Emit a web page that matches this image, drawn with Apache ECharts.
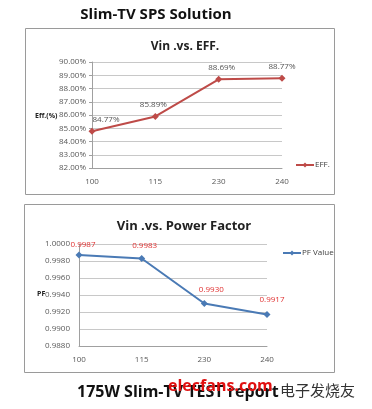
<!DOCTYPE html>
<html><head><meta charset="utf-8">
<script src="https://cdn.jsdelivr.net/npm/echarts@6/dist/echarts.min.js"></script>
<style>html,body{margin:0;padding:0;background:#fff;}#c{width:372px;height:409px;}</style>
</head><body><div id="c"></div>
<script>
const categories = ['100', '115', '230', '240'];
const effValues = [84.77, 85.89, 88.69, 88.77];
const pfValues = [0.9987, 0.9983, 0.9930, 0.9917];
const effTicks = { min: 82, max: 90, interval: 1 };
const pfTicks = { min: 0.988, max: 1.0, interval: 0.002 };

const chart = echarts.init(document.getElementById('c'), null, { renderer: 'canvas' });
const FONT = '"Open Sans", "Liberation Sans", sans-serif';
const tickLabel = { color: '#595959', fontSize: 8, fontFamily: FONT };
const splitLine = { show: true, lineStyle: { color: '#c8c8c8', width: 1 } };
const axisLine = { show: true, lineStyle: { color: '#a0a0a0', width: 1 } };
const effLabelShift = [{ dx: 14, dy: 0 }, { dx: -2, dy: 0 }, { dx: 3, dy: 0 }, { dx: 0, dy: 0 }];
const pfLabelShift = [{ dx: 4, dy: 1 }, { dx: 3, dy: -1 }, { dx: 7, dy: -2 }, { dx: 5, dy: -3 }];

chart.setOption({
  animation: false,
  backgroundColor: '#fff',
  title: [
    { text: 'Slim-TV SPS Solution', left: 151, top: 2, textAlign: 'center',
      textStyle: { fontSize: 15, fontWeight: 'bold', color: '#111', fontFamily: FONT } },
    { text: 'Vin .vs. EFF.', left: 180, top: 36, textAlign: 'center',
      textStyle: { fontSize: 12, fontWeight: 'bold', color: '#222', fontFamily: FONT } },
    { text: 'Vin .vs. Power Factor', left: 179, top: 215, textAlign: 'center',
      textStyle: { fontSize: 13, fontWeight: 'bold', color: '#222', fontFamily: FONT } }
  ],
  legend: [
    { data: ['EFF.'], left: 290, top: 156, itemWidth: 18, itemHeight: 6, itemGap: 2,
      textStyle: { fontSize: 8, color: '#404040', fontFamily: FONT, padding: [0, 0, 0, -4] } },
    { data: ['PF Value'], left: 277, top: 244, itemWidth: 18, itemHeight: 6,
      textStyle: { fontSize: 8, color: '#404040', fontFamily: FONT, padding: [0, 0, 0, -4] } }
  ],
  graphic: [
    { type: 'rect', shape: { x: 25.5, y: 28.5, width: 309, height: 166 },
      style: { fill: 'none', stroke: '#9a9a9a', lineWidth: 1 } },
    { type: 'rect', shape: { x: 24.5, y: 204.5, width: 310, height: 168 },
      style: { fill: 'none', stroke: '#9a9a9a', lineWidth: 1 } },
    { type: 'text', left: 35, top: 112,
      style: { text: 'Eff.(%)', fontSize: 7, fontWeight: 'bold', fill: '#222', fontFamily: FONT } },
    { type: 'text', left: 37, top: 290,
      style: { text: 'PF', fontSize: 7, fontWeight: 'bold', fill: '#222', fontFamily: FONT } },
    { type: 'text', left: 77, top: 384,
      style: { text: '175W Slim-TV TEST report', fontSize: 16, fontWeight: 'bold', fill: '#111', fontFamily: FONT } },
    { type: 'text', left: 168, top: 378,
      style: { text: 'elecfans.com', fontSize: 16, fontWeight: 'bold', fill: '#e01010', fontFamily: FONT } },
    { type: 'text', left: 280, top: 383,
      style: { text: '电子发烧友', fontSize: 15, fill: '#333', fontFamily: '"Noto Sans CJK SC", sans-serif' } }
  ],
  grid: [
    { left: 92, top: 62, width: 190, height: 106 },
    { left: 79, top: 244, width: 188, height: 102 }
  ],
  xAxis: [
    { type: 'category', gridIndex: 0, data: categories, boundaryGap: false,
      axisLine: axisLine, axisTick: { show: false }, axisLabel: Object.assign({ margin: 10 }, tickLabel),
      splitLine: { show: false } },
    { type: 'category', gridIndex: 1, data: categories, boundaryGap: false,
      axisLine: axisLine, axisTick: { show: false }, axisLabel: Object.assign({ margin: 10 }, tickLabel),
      splitLine: { show: false } }
  ],
  yAxis: [
    { type: 'value', gridIndex: 0, min: effTicks.min, max: effTicks.max, interval: effTicks.interval,
      axisLine: axisLine, axisTick: { show: true, length: 3, lineStyle: { color: '#a0a0a0' } },
      axisLabel: Object.assign({ margin: 6, formatter: v => v.toFixed(2) + '%' }, tickLabel),
      splitLine: splitLine },
    { type: 'value', gridIndex: 1, min: pfTicks.min, max: pfTicks.max, interval: pfTicks.interval,
      axisLine: axisLine, axisTick: { show: false },
      axisLabel: Object.assign({ margin: 9, formatter: v => v.toFixed(4) }, tickLabel),
      splitLine: splitLine }
  ],
  series: [
    { name: 'EFF.', type: 'line', xAxisIndex: 0, yAxisIndex: 0, data: effValues,
      symbol: 'diamond', symbolSize: 7, color: '#be4b48',
      lineStyle: { width: 2, color: '#be4b48' }, itemStyle: { color: '#be4b48' },
      label: { show: true, position: 'top', distance: 4, fontSize: 8, color: '#555', fontFamily: FONT,
        formatter: p => p.value.toFixed(2) + '%' },
      labelLayout: p => effLabelShift[p.dataIndex] },
    { name: 'PF Value', type: 'line', xAxisIndex: 1, yAxisIndex: 1, data: pfValues,
      symbol: 'diamond', symbolSize: 7, color: '#4a7ab5',
      lineStyle: { width: 2, color: '#4a7ab5' }, itemStyle: { color: '#4a7ab5' },
      label: { show: true, position: 'top', distance: 4, fontSize: 8, color: '#e03030', fontFamily: FONT,
        formatter: p => p.value.toFixed(4) },
      labelLayout: p => pfLabelShift[p.dataIndex] }
  ]
});
</script></body></html>
